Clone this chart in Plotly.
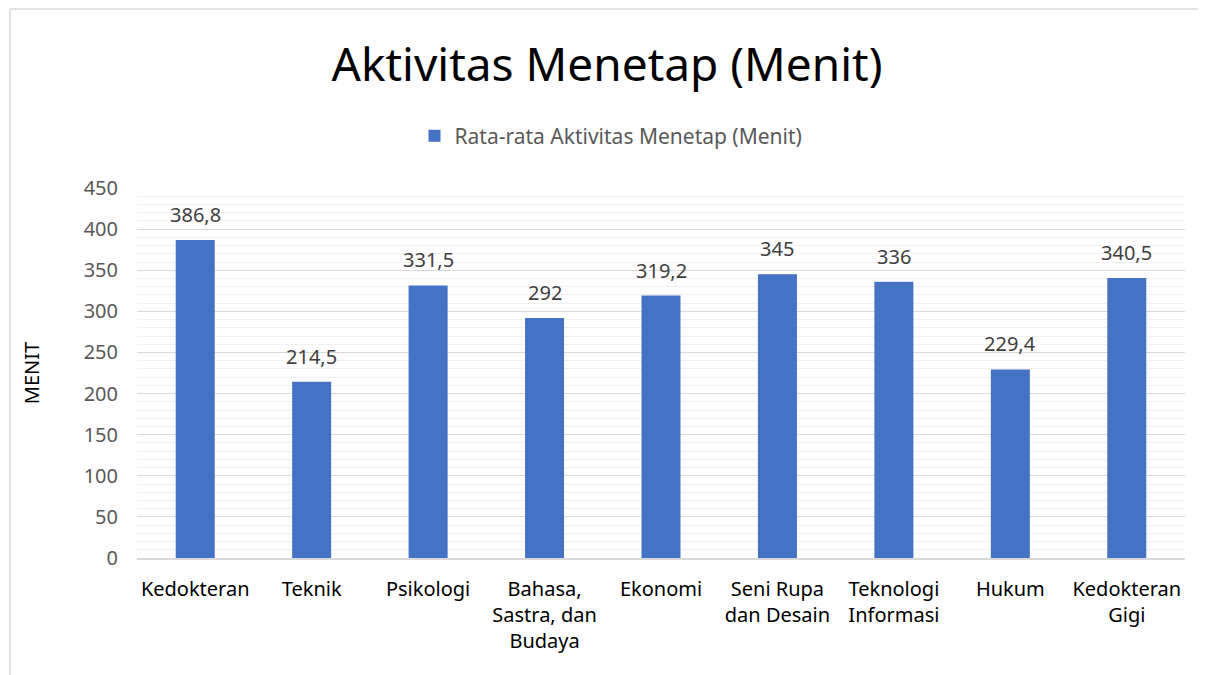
import plotly.graph_objects as go

categories = ["Kedokteran", "Teknik", "Psikologi", "Bahasa,<br>Sastra, dan<br>Budaya", "Ekonomi",
              "Seni Rupa<br>dan Desain", "Teknologi<br>Informasi", "Hukum", "Kedokteran<br>Gigi"]
values = [386.8, 214.5, 331.5, 292, 319.2, 345, 336, 229.4, 340.5]
labels = [f"{v:g}".replace(".", ",") for v in values]
series_name = "Rata-rata Aktivitas Menetap (Menit)"
y_ticks = [0, 50, 100, 150, 200, 250, 300, 350, 400, 450]

FONT = "Noto Sans"
fig = go.Figure()
fig.add_trace(go.Bar(x=categories, y=values, name=series_name, marker_color="#4472C4",
                     marker_line_width=0, showlegend=True))
for c, v, t in zip(categories, values, labels):
    fig.add_annotation(x=c, y=v, text=t, showarrow=False, yanchor="bottom", yshift=10,
                       font=dict(family=FONT, size=20, color="#404040"))

# page has an 8px body margin; figure origin is at (8, 8) on the page
W, H = 1198, 667
L, R, T, B = 129, 21, 180, 117
pw = W - L - R
ph = H - T - B
fig.update_layout(
    width=W, height=H,
    margin=dict(l=L, r=R, t=T, b=B),
    paper_bgcolor="white", plot_bgcolor="white",
    bargap=0.665,
    title=dict(text="Aktivitas Menetap (Menit)", x=0.5, xanchor="center", y=1 - 57 / H, yanchor="middle",
               font=dict(family=FONT, size=46, color="#000000")),
    legend=dict(orientation="h", x=(611 - 8 - L) / pw, xanchor="center", y=1 + (T - 128) / ph,
                yanchor="middle", font=dict(family=FONT, size=21, color="#595959"), itemwidth=30),
    xaxis=dict(tickfont=dict(family=FONT, size=20, color="#000000"), showline=True, linecolor="#d9d9d9",
               linewidth=1.5, ticks="", showgrid=False, ticklabelstandoff=12),
    yaxis=dict(range=[0, 450], tickvals=y_ticks, tickfont=dict(family=FONT, size=20, color="#595959"),
               showgrid=True, gridcolor="#d9d9d9", gridwidth=1, zeroline=False, ticks="",
               ticklabelstandoff=18,
               minor=dict(dtick=10, showgrid=True, gridcolor="#f0f0f0", gridwidth=1),
               title=dict(text="MENIT", font=dict(family=FONT, size=20, color="#000000"), standoff=38)),
)
fig.add_shape(type="line", xref="paper", yref="paper",
              x0=(2 - L) / pw, x1=(W + 5 - L) / pw, y0=1 + (T - 1) / ph, y1=1 + (T - 1) / ph,
              line=dict(color="#d9d9d9", width=1.5))
fig.add_shape(type="line", xref="paper", yref="paper",
              x0=(2 - L) / pw, x1=(2 - L) / pw, y0=1 + (T - 1) / ph, y1=-(B + 5) / ph,
              line=dict(color="#d9d9d9", width=1.5))
fig.write_html("out.html")
